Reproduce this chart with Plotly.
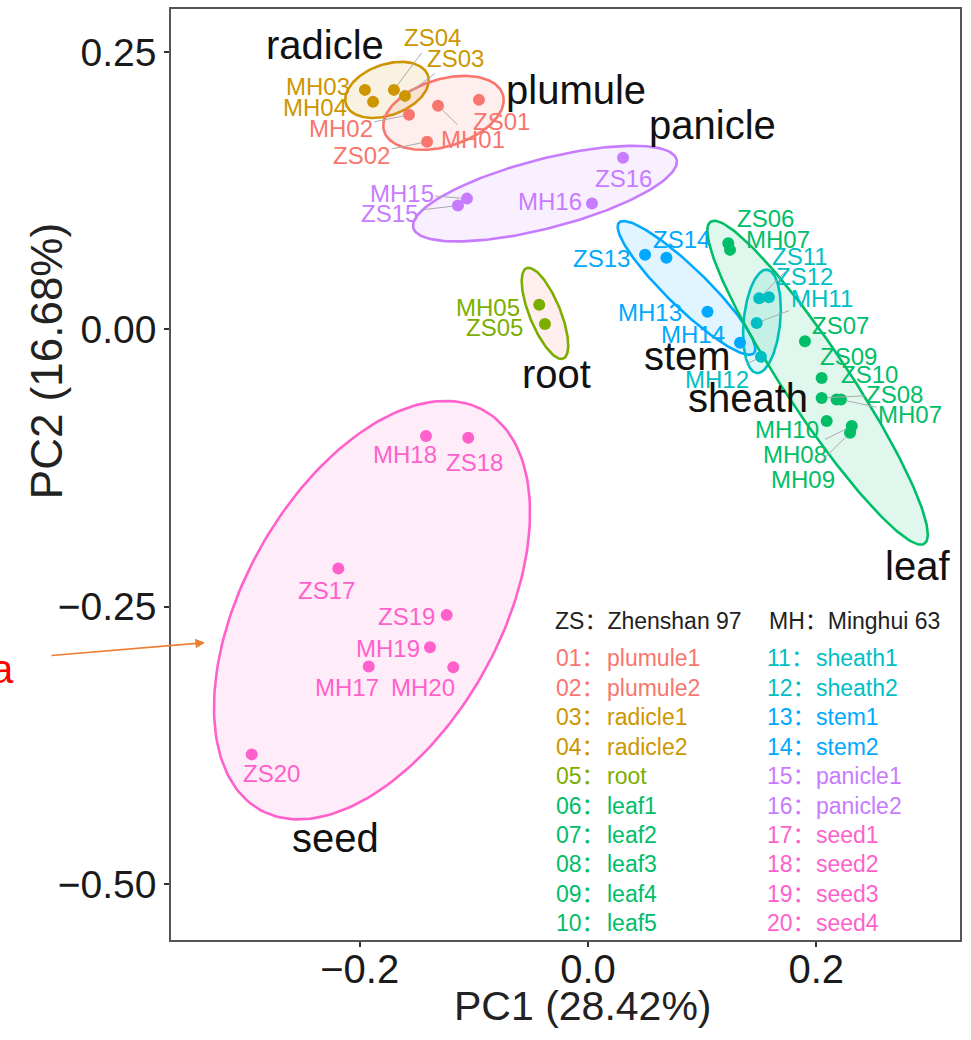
import numpy as np
import plotly.graph_objects as go

# ---------------- data ----------------
groups = ["plumule", "radicle", "root", "leaf", "sheath", "stem", "panicle", "seed"]
group_colors = ["#F8766D", "#CD9600", "#7CAE00", "#00BE67", "#00BFC4", "#00A9FF", "#C77CFF", "#FF61CC"]

sample_names = [
    "MH03", "MH04", "ZS04", "ZS03",
    "MH02", "MH01", "ZS01", "ZS02",
    "MH15", "ZS15", "MH16", "ZS16",
    "MH05", "ZS05",
    "ZS13", "ZS14", "MH13", "MH14",
    "ZS11", "ZS12", "MH11", "MH12",
    "ZS06", "MH07", "ZS07", "ZS09", "ZS08", "ZS10", "MH07", "MH10", "MH08", "MH09",
    "MH18", "ZS18", "ZS17", "ZS19", "MH19", "MH17", "MH20", "ZS20",
]
sample_group = (["radicle"] * 4 + ["plumule"] * 4 + ["panicle"] * 4 + ["root"] * 2 +
                ["stem"] * 4 + ["sheath"] * 4 + ["leaf"] * 10 + ["seed"] * 8)
pc1 = [-0.1954, -0.1883, -0.1700, -0.1603,
       -0.1568, -0.1314, -0.0955, -0.1410,
       -0.1060, -0.1139, 0.0035, 0.0307,
       -0.0427, -0.0377,
       0.0500, 0.0687, 0.1047, 0.1332,
       0.1500, 0.1585, 0.1478, 0.1515,
       0.1229, 0.1244, 0.1901, 0.2047, 0.2047, 0.2178, 0.2216, 0.2091, 0.2311, 0.2296,
       -0.1419, -0.1049, -0.2187, -0.1238, -0.1384, -0.1921, -0.1180, -0.2946]
pc2 = [0.2158, 0.2050, 0.2158, 0.2104,
       0.1933, 0.2014, 0.2068, 0.1691,
       0.1178, 0.1115, 0.1133, 0.1547,
       0.0222, 0.0048,
       0.0672, 0.0645, 0.0158, -0.0122,
       0.0279, 0.0290, 0.0057, -0.0248,
       0.0776, 0.0716, -0.0108, -0.0438, -0.0618, -0.0633, -0.0633, -0.0827, -0.0872, -0.0932,
       -0.0962, -0.0978, -0.2156, -0.2575, -0.2866, -0.3040, -0.3046, -0.3831]

# ellipses: centre, semi-axes, rotation (deg)
ell_group = ["radicle", "plumule", "panicle", "root", "stem", "sheath", "leaf", "seed"]
ell_cx = [-0.1761, -0.1266, -0.0377, -0.0377, 0.0863, 0.1524, 0.2011, -0.1892]
ell_cy = [0.2158, 0.1951, 0.1223, 0.0144, 0.0373, 0.0072, -0.0481, -0.2531]
ell_a = [0.0382, 0.0546, 0.1194, 0.0438, 0.0834, 0.0468, 0.1727, 0.2050]
ell_b = [0.0228, 0.0302, 0.0311, 0.0136, 0.0177, 0.0160, 0.0284, 0.1127]
ell_angle = [21, 18, 15, 111.4, -45, 84.6, -57.2, 62]
ell_fill_group = ["radicle", "plumule", "panicle", "plumule", "stem", "sheath", "leaf", "seed"]

legend_left = ["01：plumule1", "02：plumule2", "03：radicle1", "04：radicle2", "05：root",
               "06：leaf1", "07：leaf2", "08：leaf3", "09：leaf4", "10：leaf5"]
legend_left_group = ["plumule", "plumule", "radicle", "radicle", "root", "leaf", "leaf", "leaf", "leaf", "leaf"]
legend_right = ["11：sheath1", "12：sheath2", "13：stem1", "14：stem2", "15：panicle1",
                "16：panicle2", "17：seed1", "18：seed2", "19：seed3", "20：seed4"]
legend_right_group = ["sheath", "sheath", "stem", "stem", "panicle", "panicle", "seed", "seed", "seed", "seed"]

# ---------------- layout helpers (label placement) ----------------
label_x = [-0.2365, -0.2392, -0.1360, -0.1165,
           -0.2166, -0.1007, -0.0756, -0.1982,
           -0.1632, -0.1735, -0.0333, 0.0315,
           -0.0876, -0.0823,
           0.0120, 0.0821, 0.0543, 0.0920,
           0.1857, 0.1901, 0.2047, 0.1127,
           0.1551, 0.1667, 0.2208, 0.2280, 0.2689, 0.2470, 0.2821, 0.1741, 0.1813, 0.1886,
           -0.1603, -0.0990, -0.2295, -0.1588, -0.1749, -0.2114, -0.1443, -0.2771]
label_y = [0.2185, 0.1996, 0.2626, 0.2440,
           0.1810, 0.1709, 0.1871, 0.1571,
           0.1226, 0.1043, 0.1151, 0.1355,
           0.0198, 0.0018,
           0.0641, 0.0807, 0.0153, -0.0045,
           0.0656, 0.0477, 0.0281, -0.0452,
           0.1001, 0.0807, 0.0036, -0.0243, -0.0587, -0.0407, -0.0767, -0.0902, -0.1127, -0.1352,
           -0.1127, -0.1196, -0.2350, -0.2590, -0.2880, -0.3226, -0.3226, -0.3999]
leader = [0, 0, 1, 1,
          1, 1, 0, 1,
          1, 1, 0, 0,
          0, 0,
          0, 0, 0, 0,
          1, 0, 1, 1,
          0, 0, 0, 0, 1, 0, 1, 0, 1, 1,
          0, 0, 0, 0, 0, 0, 0, 0]

group_label_x = [-0.0105, -0.2304, -0.0280, 0.2891, 0.1402, 0.0876, 0.1095, -0.2208]
group_label_y = [0.2158, 0.2563, -0.0405, -0.2131, -0.0621, -0.0243, 0.1844, -0.4586]

col = dict(zip(groups, group_colors))


def rgba(hexc, a):
    h = hexc.lstrip("#")
    return "rgba(%d,%d,%d,%s)" % (int(h[0:2], 16), int(h[2:4], 16), int(h[4:6], 16), a)


FONT = "Liberation Sans, Arial, Noto Sans CJK SC, sans-serif"

fig = go.Figure()

# ellipses
t = np.linspace(0, 2 * np.pi, 200)
for g, cx, cy, a, b, ang, fg in zip(ell_group, ell_cx, ell_cy, ell_a, ell_b, ell_angle, ell_fill_group):
    th = np.deg2rad(ang)
    ex = cx + a * np.cos(t) * np.cos(th) - b * np.sin(t) * np.sin(th)
    ey = cy + a * np.cos(t) * np.sin(th) + b * np.sin(t) * np.cos(th)
    fig.add_trace(go.Scatter(x=ex, y=ey, mode="lines", fill="toself",
                             fillcolor=rgba(col[fg], 0.12),
                             line=dict(color=col[g], width=2.6),
                             hoverinfo="skip", showlegend=False))

# points
for g in groups:
    idx = [i for i, sg in enumerate(sample_group) if sg == g]
    fig.add_trace(go.Scatter(x=[pc1[i] for i in idx], y=[pc2[i] for i in idx],
                             mode="markers", marker=dict(color=col[g], size=12),
                             text=[sample_names[i] for i in idx],
                             showlegend=False))

ann = []
# sample labels
for i, name in enumerate(sample_names):
    c = col[sample_group[i]]
    if leader[i]:
        ann.append(dict(x=pc1[i], y=pc2[i], ax=label_x[i], ay=label_y[i],
                        xref="x", yref="y", axref="x", ayref="y",
                        text=name, showarrow=True, arrowhead=0, arrowwidth=1,
                        arrowcolor="#aaaaaa", standoff=6,
                        font=dict(family=FONT, size=24, color=c)))
    else:
        ann.append(dict(x=label_x[i], y=label_y[i], xref="x", yref="y",
                        text=name, showarrow=False,
                        font=dict(family=FONT, size=24, color=c)))

# group labels
for g, gx, gy in zip(groups, group_label_x, group_label_y):
    ann.append(dict(x=gx, y=gy, xref="x", yref="y", text=g, showarrow=False,
                    font=dict(family=FONT, size=40, color="#111111")))

# legend text block
hdr_y = -0.2626
row_y0 = -0.2966
row_dy = 0.02653
ann.append(dict(x=-0.0307, y=hdr_y, xref="x", yref="y", xanchor="left", showarrow=False,
                text="ZS：Zhenshan 97", font=dict(family=FONT, size=23, color="#222222")))
ann.append(dict(x=0.1568, y=hdr_y, xref="x", yref="y", xanchor="left", showarrow=False,
                text="MH：Minghui 63", font=dict(family=FONT, size=23, color="#222222")))
for k in range(10):
    yk = row_y0 - k * row_dy
    for entries, grps, xn, xl in ((legend_left, legend_left_group, -0.0298, 0.0149),
                                  (legend_right, legend_right_group, 0.1551, 0.1980)):
        num, lab = entries[k].split("：")
        c = col[grps[k]]
        ann.append(dict(x=xn, y=yk, xref="x", yref="y", xanchor="left", showarrow=False,
                        text=num + "：", font=dict(family=FONT, size=23, color=c)))
        ann.append(dict(x=xl, y=yk, xref="x", yref="y", xanchor="left", showarrow=False,
                        text=lab, font=dict(family=FONT, size=23, color=c)))

# axis titles
ann.append(dict(x=0.5228, y=-0.0707, xref="paper", yref="paper", showarrow=False,
                xanchor="center", yanchor="middle",
                text="PC1 (28.42%)", font=dict(family=FONT, size=41, color="#222222")))
ann.append(dict(x=-0.1584, y=0.6217, xref="paper", yref="paper", showarrow=False,
                xanchor="center", yanchor="middle",
                textangle=-90, text="PC2 (16.68%)", font=dict(family=FONT, size=44, color="#222222")))

# external pointer arrow and letter
ann.append(dict(x=0.0431, y=0.3194, xref="paper", yref="paper", ax=-155, ay=13,
                text="", showarrow=True, arrowhead=2, arrowsize=1.2, arrowwidth=1.6,
                arrowcolor="#ED7D31"))
ann.append(dict(x=-0.1965, y=0.2915, xref="paper", yref="paper", xanchor="right",
                yanchor="middle",
                showarrow=False, text="a", font=dict(family=FONT, size=40, color="#FF0000")))

fig.update_layout(
    width=971, height=1040,
    margin=dict(l=171, r=11, t=7, b=100),
    paper_bgcolor="white", plot_bgcolor="white",
    annotations=ann, showlegend=False,
    font=dict(family=FONT),
)
fig.update_xaxes(range=[-0.3653, 0.3259], showgrid=False, zeroline=False,
                 showline=True, mirror=True, linecolor="#555555", linewidth=1.6,
                 ticks="outside", ticklen=5, tickcolor="#333333", tickwidth=1.5,
                 tickvals=[-0.2, 0.0, 0.2], ticktext=["−0.2", "0.0", "0.2"],
                 ticklabelstandoff=-12,
                 tickfont=dict(family=FONT, size=40, color="#1a1a1a"))
fig.update_yaxes(range=[-0.5504, 0.2887], showgrid=False, zeroline=False,
                 showline=True, mirror=True, linecolor="#555555", linewidth=1.6,
                 ticks="outside", ticklen=5, tickcolor="#333333", tickwidth=1.5,
                 tickvals=[0.25, 0.0, -0.25, -0.5], ticktext=["0.25", "0.00", "−0.25", "−0.50"],
                 tickfont=dict(family=FONT, size=39, color="#1a1a1a"))

fig.write_html("out.html")
